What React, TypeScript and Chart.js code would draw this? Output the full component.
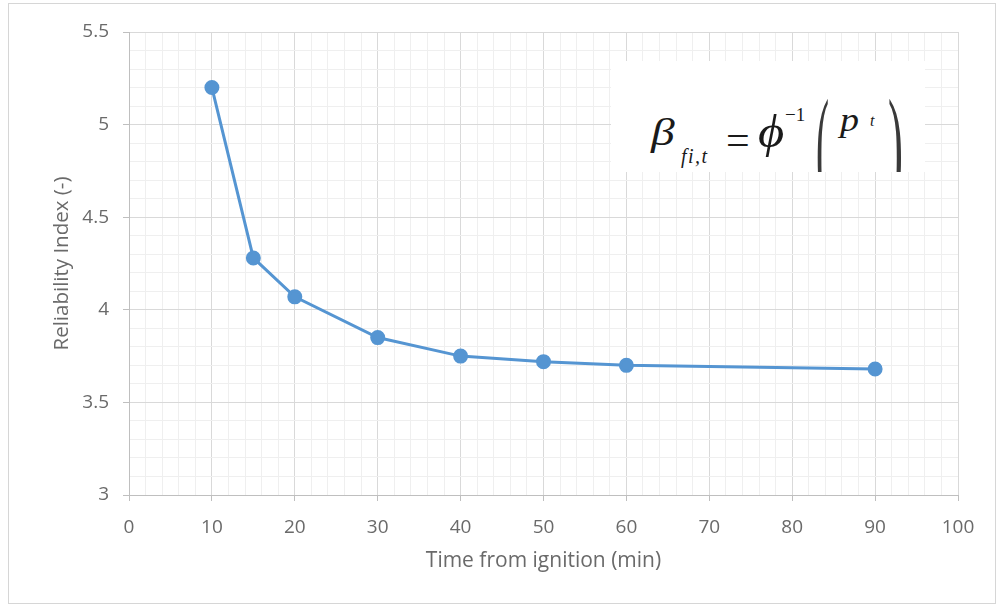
import React, { useEffect, useRef } from 'react';
import { Chart, registerables } from 'chart.js';

Chart.register(...registerables);

// ---- data ----
const timeMin = [10, 15, 20, 30, 40, 50, 60, 90];
const reliabilityIndex = [5.2, 4.28, 4.07, 3.85, 3.75, 3.72, 3.7, 3.68];
const xMajorTicks = [0, 10, 20, 30, 40, 50, 60, 70, 80, 90, 100];
const yMajorTicks = [3, 3.5, 4, 4.5, 5, 5.5];
const xTitle = 'Time from ignition (min)';
const yTitle = 'Reliability Index (-)';

const isIn = (arr: number[], v: number) => arr.some((a) => Math.abs(a - v) < 1e-6);

const FONT = "'Open Sans', 'Liberation Sans', sans-serif";
const MAJOR = '#d9d9d9';
const MINOR = '#efefef';

export default function App() {
  const ref = useRef<HTMLCanvasElement | null>(null);

  useEffect(() => {
    if (!ref.current) return;
    const chart = new Chart(ref.current, {
      type: 'line',
      data: {
        datasets: [
          {
            data: timeMin.map((x, i) => ({ x, y: reliabilityIndex[i] })),
            borderColor: '#5595d2',
            backgroundColor: '#5595d2',
            borderWidth: 3,
            pointRadius: 6,
            pointBackgroundColor: '#5595d2',
            pointBorderColor: '#5595d2',
            tension: 0,
          },
        ],
      },
      options: {
        responsive: false,
        animation: false,
        layout: { padding: { left: 0, top: 32, right: 43, bottom: 0 } },
        plugins: { legend: { display: false }, tooltip: { enabled: false } },
        scales: {
          x: {
            type: 'linear',
            min: 0,
            max: 100,
            afterFit: (s: any) => {
              s.height = 110;
            },
            border: { color: '#bfbfbf', width: 1 },
            grid: {
              color: (c: any) => (c.tick && isIn(xMajorTicks, c.tick.value) ? MAJOR : MINOR),
              tickColor: (c: any) => (c.tick && isIn(xMajorTicks, c.tick.value) ? '#bfbfbf' : 'rgba(0,0,0,0)'),
              tickLength: 6,
            },
            ticks: {
              stepSize: 2,
              maxTicksLimit: 200,
              autoSkip: false,
              maxRotation: 0,
              padding: 15,
              color: '#6a6a6a',
              font: { family: FONT, size: 19 },
              callback: (v: any) => (isIn(xMajorTicks, Number(v)) ? String(Math.round(Number(v))) : ''),
            },
            title: {
              display: true,
              text: xTitle,
              color: '#6a6a6a',
              font: { family: FONT, size: 21 },
              padding: { top: 0, bottom: 31 },
            },
          },
          y: {
            type: 'linear',
            min: 3,
            max: 5.5,
            afterFit: (s: any) => {
              s.width = 129;
            },
            border: { color: '#bfbfbf', width: 1 },
            grid: {
              color: (c: any) => (c.tick && isIn(yMajorTicks, c.tick.value) ? MAJOR : MINOR),
              tickColor: (c: any) => (c.tick && isIn(yMajorTicks, c.tick.value) ? '#bfbfbf' : 'rgba(0,0,0,0)'),
              tickLength: 6,
            },
            ticks: {
              stepSize: 0.1,
              maxTicksLimit: 200,
              autoSkip: false,
              padding: 14,
              color: '#6a6a6a',
              font: { family: FONT, size: 19 },
              callback: (v: any) => {
                const n = Number(v);
                if (!isIn(yMajorTicks, n)) return '';
                const r = Math.round(n * 2) / 2;
                return String(r);
              },
            },
            title: {
              display: true,
              text: yTitle,
              color: '#6a6a6a',
              font: { family: FONT, size: 20.5 },
              padding: { top: 50, bottom: 0 },
            },
          },
        },
      },
    });
    return () => chart.destroy();
  }, []);

  const serif = "'Liberation Serif', 'DejaVu Serif', serif";

  return (
    <div style={{ position: 'fixed', left: 0, top: 0, width: 1001, height: 605, background: '#fff' }}>
      <div
        style={{
          position: 'absolute',
          left: 8,
          top: 3,
          width: 986,
          height: 599,
          border: '1px solid #d6d6d6',
          boxSizing: 'content-box',
        }}
      />
      <canvas ref={ref} width={1001} height={605} style={{ position: 'absolute', left: 0, top: 0, width: 1001, height: 605 }} />
      <div
        style={{
          position: 'absolute',
          left: 611,
          top: 61,
          width: 314,
          height: 111,
          background: '#fff',
          overflow: 'hidden',
          fontFamily: serif,
          color: '#1a1a1a',
        }}
      >
        <span
          style={{
            position: 'absolute',
            left: 40,
            top: 52,
            fontSize: 38,
            fontStyle: 'italic',
            lineHeight: '38px',
            transform: 'scale(1.25, 1)',
            transformOrigin: 'top left',
          }}
        >
          β
        </span>
        <span
          style={{
            position: 'absolute',
            left: 70,
            top: 85,
            fontSize: 20,
            fontStyle: 'italic',
            lineHeight: '20px',
            letterSpacing: 1.5,
          }}
        >
          fi,t
        </span>
        <span style={{ position: 'absolute', left: 115, top: 58, fontSize: 42, lineHeight: '42px' }}>=</span>
        <span
          style={{
            position: 'absolute',
            left: 147,
            top: 48,
            fontSize: 46,
            fontStyle: 'italic',
            lineHeight: '46px',
            transform: 'scale(1.1, 1)',
            transformOrigin: 'top left',
          }}
        >
          ϕ
        </span>
        <span style={{ position: 'absolute', left: 174, top: 44, fontSize: 19, lineHeight: '19px' }}>−1</span>
        <span
          style={{
            position: 'absolute',
            left: 205,
            top: 19,
            fontSize: 30,
            lineHeight: '30px',
            color: '#3a3a3a',
            transform: 'scale(1.3, 4.4)',
            transformOrigin: 'top left',
          }}
        >
          (
        </span>
        <span
          style={{
            position: 'absolute',
            left: 229,
            top: 43,
            fontSize: 33,
            fontStyle: 'italic',
            lineHeight: '33px',
            transform: 'scale(1.15, 1)',
            transformOrigin: 'top left',
          }}
        >
          p
        </span>
        <span style={{ position: 'absolute', left: 259, top: 52, fontSize: 16, fontStyle: 'italic', lineHeight: '16px' }}>t</span>
        <span
          style={{
            position: 'absolute',
            left: 277,
            top: 19,
            fontSize: 30,
            lineHeight: '30px',
            color: '#3a3a3a',
            transform: 'scale(1.5, 4.4)',
            transformOrigin: 'top left',
          }}
        >
          )
        </span>
      </div>
    </div>
  );
}
